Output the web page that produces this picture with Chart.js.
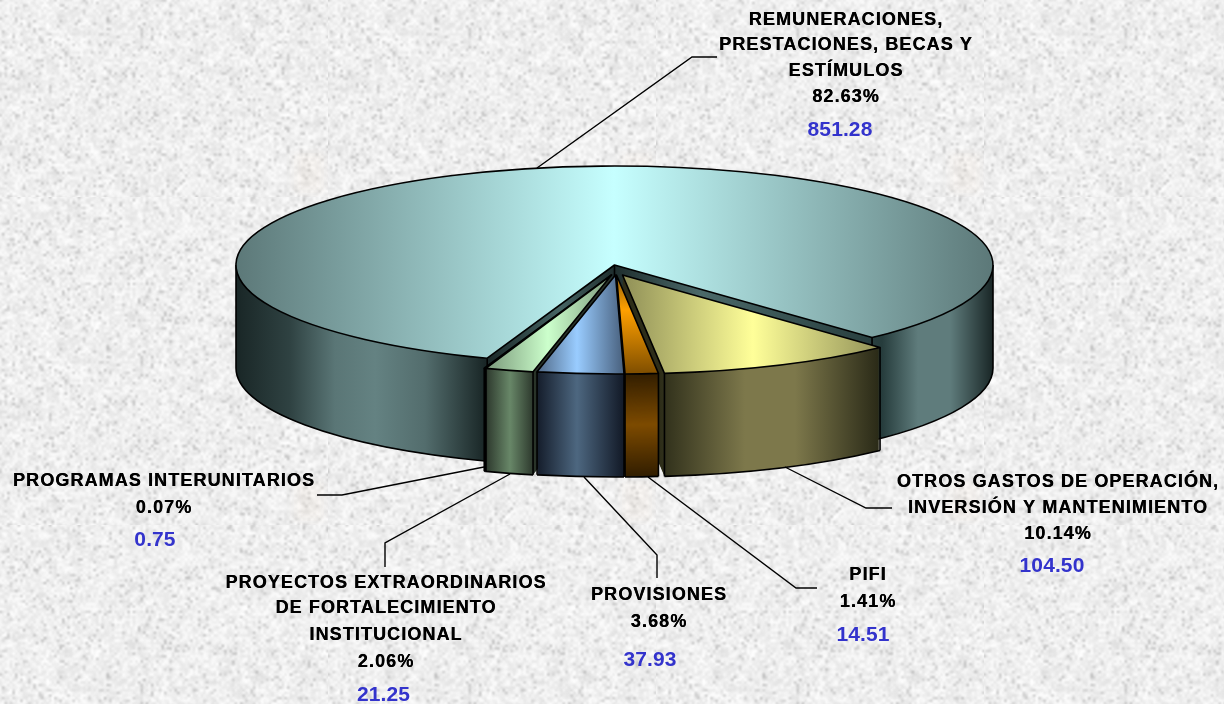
<!DOCTYPE html>
<html>
<head>
<meta charset="utf-8">
<script src="https://cdn.jsdelivr.net/npm/chart.js@4"></script>
<style>
html, body { margin: 0; padding: 0; background: #eaeaea; }
#wrap { width: 1224px; height: 704px; overflow: hidden; }
</style>
</head>
<body>
<div id="wrap"><canvas id="chart1" width="1224" height="704"></canvas></div>
<script>
// Values, clockwise from the big slice
const categories = [
    'REMUNERACIONES, PRESTACIONES, BECAS Y ESTÍMULOS',
    'OTROS GASTOS DE OPERACIÓN, INVERSIÓN Y MANTENIMIENTO',
    'PIFI',
    'PROVISIONES',
    'PROYECTOS EXTRAORDINARIOS DE FORTALECIMIENTO INSTITUCIONAL',
    'PROGRAMAS INTERUNITARIOS'
];
const amounts = [851.28, 104.50, 14.51, 37.93, 21.25, 0.75];
const percents = ['82.63%', '10.14%', '1.41%', '3.68%', '2.06%', '0.07%'];

// Label layout: wrapped lines, centre x, y of each line
const labelLines = [
    ['REMUNERACIONES,', 'PRESTACIONES, BECAS Y', 'ESTÍMULOS'],
    ['OTROS GASTOS DE OPERACIÓN,', 'INVERSIÓN Y MANTENIMIENTO'],
    ['PIFI'],
    ['PROVISIONES'],
    ['PROYECTOS EXTRAORDINARIOS', 'DE FORTALECIMIENTO', 'INSTITUCIONAL'],
    ['PROGRAMAS INTERUNITARIOS']
];
const labelX = [846, 1058, 868, 659, 386, 164];
const valueX = [840, 1052, 863, 650, 383.5, 155];
const labelY = [
    [20, 45, 71, 97, 130],
    [482, 508, 534, 566],
    [575, 602, 635],
    [595, 622, 660],
    [583, 608, 635, 662, 695],
    [481, 508, 540]
];
const leaders = [
    [[537, 168], [692, 57], [717, 57]],
    [[785, 467], [866, 508], [892, 508]],
    [[648, 477], [796, 588], [817, 588]],
    [[584, 477], [657, 555], [657, 578]],
    [[510, 474], [385, 543], [385, 567]],
    [[484, 467], [342, 495], [317, 495]]
];

// 3D look
const centerX = 614.5, centerY = 265, radius = 378.5, tilt = 0.2615, depth = 103;
const shiftX = [0, 8, 2, 1, -3, -3];
const shiftY = [0, 10, 10, 10, 10, 10];
const drawOrder = [0, 1, 2, 5, 4, 3];

const topStops = [
    [[236, '#5c7878'], [614, '#c6ffff'], [993, '#5c7878']],
    [[625, '#919158'], [753, '#ffff99'], [881, '#919158']],
    null,
    [[537, '#506987'], [577, '#99ccff'], [622, '#4b6482']],
    [[485, '#789678'], [548, '#ccffcc'], [614, '#789678']],
    [[484, '#333333'], [614, '#333333']]
];
const wallStops = [
    [[236, '#192626'], [290, '#2f4242'], [335, '#5a7676'], [375, '#648282'], [425, '#536d6d'], [485, '#192626'],
     [560, '#466464'], [614, '#1e2d2d'], [700, '#4b6969'], [882, '#263c3c'], [918, '#5f7c7c'], [950, '#5f7c7c'], [993, '#192626']],
    [[660, '#2d2d19'], [745, '#7d784b'], [795, '#7d784b'], [881, '#282816']],
    null,
    [[537, '#141c2a'], [577, '#4d6780'], [622, '#141c2a']],
    [[484, '#283228'], [510, '#688768'], [535, '#283228']],
    [[484, '#111111'], [614, '#111111']]
];
// orange slice is shaded top to bottom instead
const orangeTop = [[276, '#96640a'], [310, '#ffa000'], [372, '#825000']];
const orangeWall = [[50, 30, 0], [125, 75, 0], [50, 30, 0]];

function noiseLayer(cells, next, dark, light, rate) {
    const c = document.createElement('canvas');
    c.width = c.height = cells;
    const cctx = c.getContext('2d');
    const img = cctx.createImageData(cells, cells);
    for (let i = 0; i < img.data.length; i += 4) {
        const v = next() < rate ? dark + next() * 25 : light + next() * (255 - light);
        img.data[i] = img.data[i + 1] = img.data[i + 2] = v;
        img.data[i + 3] = 255;
    }
    cctx.putImageData(img, 0, 0);
    return c;
}

function makeTexture() {
    // speckled paper tile, seeded so every run looks the same
    let seed = 12345;
    const next = () => (seed = (seed * 1664525 + 1013904223) >>> 0) / 4294967296;
    const size = 328;
    const tile = document.createElement('canvas');
    tile.width = tile.height = size;
    const t = tile.getContext('2d');
    t.fillStyle = '#ebebeb';
    t.fillRect(0, 0, size, size);
    t.imageSmoothingEnabled = true;
    t.imageSmoothingQuality = 'high';
    t.filter = 'blur(0.6px)';
    t.drawImage(noiseLayer(130, next, 185, 225, 0.08), -6, -6, size + 12, size + 12);
    t.globalAlpha = 0.3;
    t.filter = 'blur(1.5px)';
    t.drawImage(noiseLayer(55, next, 195, 230, 0.12), -6, -6, size + 12, size + 12);
    // faint peach mark near the tile seam
    t.globalAlpha = 1;
    t.filter = 'blur(3px)';
    t.fillStyle = 'rgba(245, 225, 205, 0.14)';
    t.fillRect(294, 284, 30, 40);
    return tile;
}

function gradientX(ctx, stops, dx) {
    const first = stops[0][0], last = stops[stops.length - 1][0];
    const g = ctx.createLinearGradient(first + dx, 0, last + dx, 0);
    stops.forEach(s => g.addColorStop((s[0] - first) / (last - first), s[1]));
    return g;
}

function mix(a, b, t) {
    return 'rgb(' + a.map((v, i) => Math.round(v + (b[i] - v) * t)).join(',') + ')';
}

function drawArcAt(ctx, arc, fill, x, y) {
    const saved = arc.options;
    arc.options = Object.assign({}, saved, { backgroundColor: fill, borderWidth: 0 });
    ctx.save();
    ctx.translate(centerX + x, centerY + y);
    ctx.scale(1, tilt);
    ctx.translate(-arc.x, -arc.y);
    arc.draw(ctx);
    ctx.restore();
    arc.options = saved;
}

function rimPoint(arc, angle, x, y) {
    return [centerX + x + Math.cos(angle) * arc.outerRadius,
            centerY + y + Math.sin(angle) * arc.outerRadius * tilt];
}

function strokeTop(ctx, arc, x, y) {
    ctx.beginPath();
    ctx.moveTo(centerX + x, centerY + y);
    ctx.ellipse(centerX + x, centerY + y, arc.outerRadius, arc.outerRadius * tilt, 0, arc.startAngle, arc.endAngle);
    ctx.closePath();
    ctx.stroke();
}

function strokeWall(ctx, arc, x, y) {
    // only the part of the rim facing the viewer
    [[0, Math.PI], [2 * Math.PI, 3 * Math.PI]].forEach(range => {
        const a = Math.max(range[0], arc.startAngle), b = Math.min(range[1], arc.endAngle);
        if (b <= a) return;
        ctx.beginPath();
        ctx.ellipse(centerX + x, centerY + y + depth, arc.outerRadius, arc.outerRadius * tilt, 0, a, b);
        ctx.stroke();
        [a, b].forEach(angle => {
            const p = rimPoint(arc, angle, x, y);
            ctx.beginPath();
            ctx.moveTo(p[0], p[1]);
            ctx.lineTo(p[0], p[1] + depth);
            ctx.stroke();
        });
    });
}

const pie3d = {
    id: 'pie3d',
    beforeDraw(chart) {
        const ctx = chart.ctx;
        ctx.save();
        const pattern = ctx.createPattern(makeTexture(), 'repeat');
        ctx.translate(0, 197 - 328);
        ctx.fillStyle = pattern;
        ctx.fillRect(0, 0, chart.width, chart.height + 328);
        ctx.restore();
    },
    beforeDatasetsDraw(chart) {
        const ctx = chart.ctx;
        const arcs = chart.getDatasetMeta(0).data;
        ctx.save();
        ctx.lineJoin = 'round';
        ctx.lineWidth = 1.6;
        ctx.strokeStyle = '#000000';
        drawOrder.forEach(i => {
            const arc = arcs[i];
            const x = shiftX[i], y = shiftY[i];
            const dx = arc.x - centerX - x;
            // side wall: the same arc stacked downwards
            const wall = wallStops[i] ? gradientX(ctx, wallStops[i], dx) : null;
            for (let d = depth; d >= 1; d--) {
                let fill = wall;
                if (!fill) {
                    const t = d / depth;
                    fill = t < 0.5 ? mix(orangeWall[0], orangeWall[1], t * 2) : mix(orangeWall[1], orangeWall[2], t * 2 - 1);
                }
                drawArcAt(ctx, arc, fill, x, y + d);
            }
            strokeWall(ctx, arc, x, y);
            if (i === 0) {
                ctx.beginPath();
                ctx.moveTo(centerX, centerY);
                ctx.lineTo(centerX, centerY + depth);
                ctx.stroke();
            }
            // top face
            let top;
            if (topStops[i]) {
                top = gradientX(ctx, topStops[i], dx);
            } else {
                const toLocal = v => (v - centerY - y) / tilt + arc.y;
                const a = orangeTop[0][0], b = orangeTop[orangeTop.length - 1][0];
                top = ctx.createLinearGradient(0, toLocal(a), 0, toLocal(b));
                orangeTop.forEach(s => top.addColorStop((s[0] - a) / (b - a), s[1]));
            }
            drawArcAt(ctx, arc, top, x, y);
            strokeTop(ctx, arc, x, y);
        });
        ctx.restore();
        return false;
    },
    afterDraw(chart) {
        const ctx = chart.ctx;
        ctx.save();
        ctx.strokeStyle = '#000000';
        ctx.lineWidth = 1.4;
        leaders.forEach(points => {
            ctx.beginPath();
            points.forEach((p, i) => i ? ctx.lineTo(p[0], p[1]) : ctx.moveTo(p[0], p[1]));
            ctx.stroke();
        });
        ctx.textAlign = 'center';
        ctx.textBaseline = 'middle';
        categories.forEach((name, i) => {
            const lines = labelLines[i].concat([percents[i]]);
            ctx.font = 'bold 18px "Liberation Sans", Arial, sans-serif';
            ctx.letterSpacing = '1.1px';
            ctx.fillStyle = '#000000';
            // draw twice: the reference text is a little heavier
            lines.forEach((text, j) => {
                ctx.fillText(text, labelX[i], labelY[i][j]);
                ctx.fillText(text, labelX[i] + 0.3, labelY[i][j]);
            });
            ctx.font = 'bold 21px "Liberation Sans", Arial, sans-serif';
            ctx.letterSpacing = '0.1px';
            ctx.fillStyle = '#3333cc';
            ctx.fillText(amounts[i].toFixed(2), valueX[i], labelY[i][lines.length]);
        });
        ctx.restore();
    }
};

const chart1 = new Chart(document.getElementById('chart1').getContext('2d'), {
    type: 'pie',
    data: {
        labels: categories,
        datasets: [{
            data: amounts,
            backgroundColor: '#cccccc',
            borderWidth: 0,
            clip: false
        }]
    },
    options: {
        responsive: false,
        animation: false,
        rotation: 199.65,
        radius: radius,
        layout: { padding: 0 },
        plugins: { legend: { display: false }, tooltip: { enabled: false } }
    },
    plugins: [pie3d]
});
</script>
</body>
</html>
